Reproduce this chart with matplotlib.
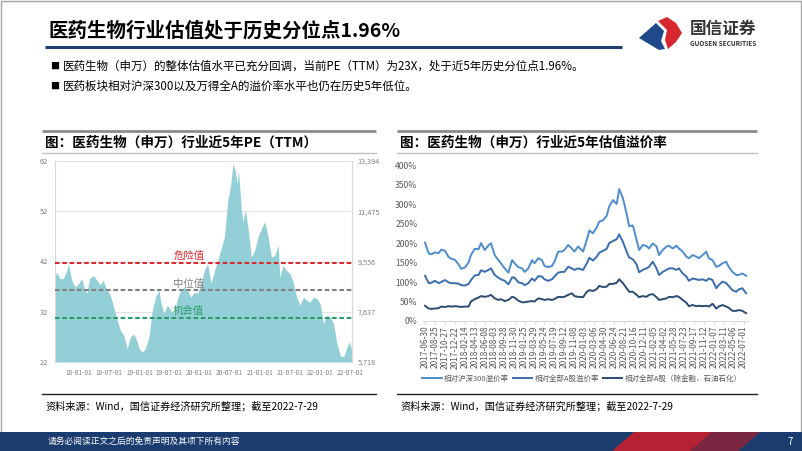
# 医药生物行业估值：PE(TTM) 与 估值溢价率
import numpy as np
import pandas as pd
import matplotlib
matplotlib.use('Agg')
import matplotlib.pyplot as plt
import matplotlib.dates as mdates
from matplotlib.patches import Polygon, Rectangle

plt.rcParams['font.family'] = ['Noto Sans CJK SC', 'DejaVu Sans']

# ---- 左图：医药生物（申万）PE(TTM) ----
pe_dates = ['2017-08-08', '2017-08-18', '2017-09-07', '2017-09-28', '2017-10-18', '2017-10-28', '2017-11-17',
            '2017-12-08', '2017-12-28', '2018-01-17', '2018-01-31', '2018-02-16', '2018-03-05', '2018-03-29',
            '2018-04-18', '2018-05-09', '2018-05-25', '2018-06-19', '2018-07-09', '2018-07-29', '2018-08-19',
            '2018-09-08', '2018-09-28', '2018-10-19', '2018-11-08', '2018-11-28', '2018-12-19', '2018-12-29',
            '2019-01-18', '2019-02-07', '2019-02-28', '2019-03-20', '2019-04-09', '2019-04-30', '2019-05-10',
            '2019-05-30', '2019-06-19', '2019-07-10', '2019-07-30', '2019-08-19', '2019-09-09', '2019-09-29',
            '2019-10-19', '2019-11-09', '2019-11-29', '2019-12-19', '2020-01-09', '2020-01-29', '2020-02-18',
            '2020-03-10', '2020-03-30', '2020-04-19', '2020-05-10', '2020-05-30', '2020-06-19', '2020-07-05',
            '2020-07-20', '2020-08-03', '2020-08-15', '2020-08-23', '2020-09-08', '2020-09-19', '2020-10-03',
            '2020-10-19', '2020-11-08', '2020-11-29', '2020-12-19', '2021-01-08', '2021-01-29', '2021-02-18',
            '2021-03-10', '2021-03-31', '2021-04-20', '2021-04-30', '2021-05-20', '2021-06-10', '2021-06-30',
            '2021-07-20', '2021-08-10', '2021-08-30', '2021-09-19', '2021-10-10', '2021-10-30', '2021-11-19',
            '2021-12-10', '2021-12-30', '2022-01-19', '2022-02-09', '2022-03-01', '2022-03-21', '2022-04-11',
            '2022-05-01', '2022-05-21', '2022-06-11', '2022-06-25', '2022-07-11']
pe_values = [38.9, 39.9, 38.6, 38.6, 40.2, 41.6, 38.3, 36.9, 37.6, 38.6,
             36.9, 35.6, 38.6, 39.2, 38.3, 37.3, 38.3, 36.3, 35.3, 32.9,
             30.3, 28.3, 27.3, 24.7, 27.0, 27.6, 26.0, 24.7, 24.0, 24.7,
             27.0, 32.3, 34.9, 36.3, 33.9, 31.6, 33.3, 32.3, 31.6, 34.6,
             36.3, 36.9, 36.3, 34.9, 35.9, 35.6, 37.6, 40.2, 41.6, 37.6,
             40.2, 42.2, 44.6, 46.9, 54.2, 56.8, 61.5, 60.1, 57.5, 60.1,
             52.8, 49.9, 52.2, 48.9, 42.9, 44.2, 46.9, 48.5, 49.9, 46.9,
             42.9, 43.2, 45.2, 38.9, 41.2, 40.2, 39.6, 37.9, 34.9, 33.3,
             34.9, 34.3, 33.9, 34.9, 34.6, 33.6, 29.6, 31.3, 31.0, 29.6,
             25.6, 23.3, 23.0, 25.0, 26.0, 24.3]
pe_danger = 41.8   # 危险值
pe_median = 36.3   # 中位值
pe_chance = 30.8   # 机会值
pe_left_ticks = [22, 32, 42, 52, 62]
pe_right_ticks = [5718, 7637, 9556, 11475, 13394]

# ---- 右图：估值溢价率（周度，序号为周） ----
prem_weeks = [0, 3, 5, 8, 11, 13, 16, 19, 21, 24, 27, 29, 32, 35, 37, 40, 43, 45, 48, 51,
              53, 56, 59, 61, 64, 67, 70, 72, 75, 78, 80, 83, 86, 88, 91, 94, 96, 99, 102, 104,
              107, 110, 112, 115, 118, 120, 123, 127, 130, 132, 135, 138, 140, 143, 146, 148, 151,
              154, 156, 159, 162, 164, 167, 170, 172, 175, 178, 180, 183, 186, 188, 191, 194, 196,
              199, 202, 204, 207, 210, 212, 215, 218, 220, 223, 226, 228, 231, 234, 236, 239, 242,
              244, 247, 250, 252, 255, 258]
prem_hs300 = [201, 173, 171, 176, 174, 183, 180, 164, 160, 157, 145, 134, 137, 150, 170, 185, 184, 200, 182, 194,
              199, 169, 156, 148, 135, 124, 156, 148, 138, 135, 126, 135, 156, 148, 161, 156, 141, 138, 141, 152,
              178, 178, 182, 195, 186, 178, 191,
              178, 208, 232, 225, 240, 255, 258, 270, 294, 310, 300, 338, 315, 275, 243, 245, 208, 182, 195, 192,
              186, 199, 191, 169, 182, 191, 193, 186, 193, 186, 178, 165, 161, 169, 165, 161, 169, 178, 161, 156,
              139, 141, 148, 152, 139, 126, 118, 118, 122, 116]
prem_alla = [116, 97, 98, 103, 97, 100, 105, 99, 97, 97, 96, 92, 91, 95, 105, 117, 118, 130, 126, 131,
             135, 118, 111, 107, 103, 94, 112, 111, 99, 97, 92, 97, 109, 103, 115, 114, 107, 103, 107, 114,
             124, 126, 126, 139, 135, 131, 135,
             131, 148, 162, 155, 165, 175, 180, 185, 200, 205, 210, 222, 203, 178, 163, 158, 145, 125, 131, 135,
             139, 152, 135, 118, 126, 131, 135, 135, 131, 135, 122, 114, 103, 109, 107, 105, 107, 103, 109, 105,
             84, 92, 101, 97, 90, 79, 75, 81, 84, 71]
prem_alla_ex = [39, 32, 31, 32, 33, 37, 36, 38, 37, 38, 37, 36, 37, 37, 50, 56, 60, 64, 62, 64,
                67, 58, 54, 56, 51, 54, 62, 60, 52, 48, 48, 50, 51, 50, 58, 56, 54, 56, 54, 56,
                62, 61, 62, 67, 71, 64, 62,
                61, 75, 79, 77, 82, 90, 87, 88, 95, 95, 98, 107, 97, 84, 75, 75, 67, 61, 64, 62,
                67, 69, 61, 54, 56, 58, 62, 61, 64, 62, 54, 47, 38, 41, 38, 39, 38, 39, 37, 44,
                32, 37, 41, 37, 34, 26, 26, 28, 26, 20]
prem_labels = ['2017-06-30', '2017-08-25', '2017-10-27', '2017-12-22', '2018-02-14', '2018-04-13',
               '2018-06-08', '2018-08-03', '2018-09-28', '2018-11-30', '2019-01-25', '2019-03-29',
               '2019-05-24', '2019-07-19', '2019-09-12', '2019-11-08', '2020-01-03', '2020-03-06',
               '2020-04-30', '2020-06-24', '2020-08-21', '2020-10-16', '2020-12-11', '2021-02-05',
               '2021-04-02', '2021-05-28', '2021-07-23', '2021-09-17', '2021-11-12', '2022-01-07',
               '2022-03-11', '2022-05-06', '2022-07-01']
prem_names = ['相对沪深300溢价率', '相对全部A股溢价率', '相对全部A股（除金融，石油石化）']
prem_colors = ['#4f8ccb', '#3b6ea9', '#2c4c72']

W, H = 802, 451
fig = plt.figure(figsize=(W / 100, H / 100), dpi=100)

# 背景层，按像素定位
bg = fig.add_axes([0, 0, 1, 1], zorder=0)
bg.set_xlim(0, W)
bg.set_ylim(H, 0)
bg.axis('off')

bg.add_patch(Rectangle((0.5, 0.5), W - 2, 432, fill=False, ec='#a6a6a6', lw=1))

# 标题
bg.text(48, 31, '医药生物行业估值处于历史分位点1.96%', fontsize=14, fontweight='bold', va='center')
bg.plot([45, 622], [46.5, 46.5], color='#1f3f73', lw=2.2, solid_capstyle='butt')

# 国信证券 logo
bg.add_patch(Polygon([(639, 38), (656, 23), (664, 31), (661, 41), (665, 49), (659, 50)], color='#1e4a8c', lw=0))
bg.add_patch(Polygon([(658, 21), (667, 17), (676, 23), (682, 33), (676, 42), (668, 49), (665, 40), (667, 30)],
                     color='#d7282f', lw=0))
bg.text(690, 29, '国信证券', fontsize=12, fontweight='bold', color='#333333', va='center')
bg.text(690.5, 44, 'GUOSEN SECURITIES', fontsize=4.6, fontweight='bold', color='#333333', va='center')

# 要点
bullets = ['医药生物（申万）的整体估值水平已充分回调，当前PE（TTM）为23X，处于近5年历史分位点1.96%。',
           '医药板块相对沪深300以及万得全A的溢价率水平也仍在历史5年低位。']
for yy, txt in zip([66, 86], bullets):
    bg.text(50, yy, '■', fontsize=6.5, va='center')
    bg.text(63, yy, txt, fontsize=8.3, va='center')

# 两个图框的标题、分隔线、资料来源
for x0, x1, ttl in [(42, 376, '图：医药生物（申万）行业近5年PE（TTM）'),
                    (397, 757, '图：医药生物（申万）行业近5年估值溢价率')]:
    bg.plot([x0, x1], [131, 131], color='#8c8c8c', lw=2, solid_capstyle='butt')
    bg.text(x0 + 3, 143, ttl, fontsize=9.8, fontweight='bold', va='center')
    bg.plot([x0, x1], [152.5, 152.5], color='#bfbfbf', lw=1)
    bg.plot([x0, x1], [394, 394], color='#222222', lw=1)
    bg.text(x0 + 3, 406, '资料来源：Wind，国信证券经济研究所整理；截至2022-7-29', fontsize=7.3, va='center')

# 页脚
bg.add_patch(Rectangle((0, 432), W, 19, color='#1b3c6e', lw=0))
bg.add_patch(Polygon([(612, 451), (634, 432), (712, 432), (690, 451)], color='#c91f2e', alpha=0.9, lw=0))
bg.add_patch(Polygon([(690, 451), (712, 432), (760, 432), (738, 451)], color='#a3202f', alpha=0.7, lw=0))
bg.text(48, 441.5, '请务必阅读正文之后的免责声明及其项下所有内容', fontsize=6.3, color='white', va='center')
bg.text(790, 442, '7', fontsize=7, color='white', va='center', ha='center')

# ---- 左图 ----
dates = pd.to_datetime(pe_dates)
ax1 = fig.add_axes([55 / W, 1 - 362 / H, 297 / W, 201 / H], zorder=2)
ax1.set_axisbelow(True)
ax1.grid(axis='y', color='#e3e3e3', lw=0.8)
ax1.fill_between(dates, pe_values, 22, color='#93cfd7', lw=0, zorder=2)
ax1.set_ylim(22, 62)
ax1.set_xlim(dates[0], dates[-1])
ax1.set_yticks(pe_left_ticks)

for val, col in [(pe_danger, '#d92b2f'), (pe_median, '#808080'), (pe_chance, '#2c9a66')]:
    ax1.axhline(val, color=col, ls=(0, (2.2, 1.3)), lw=1.5, zorder=3)
label_x = pd.Timestamp('2019-10-27')
for val, txt, col in [(pe_danger, '危险值', '#d92b2f'), (pe_median, '中位值', '#808080'),
                      (pe_chance, '机会值', '#2c9a66')]:
    ax1.text(label_x, val + 0.3, txt, color=col, fontsize=7.5, ha='center', va='bottom', zorder=4)

ax1.xaxis.set_major_locator(mdates.MonthLocator(bymonth=[1, 7]))
ax1.xaxis.set_major_formatter(mdates.DateFormatter('%y-%m-%d'))
ax1.tick_params(axis='both', length=0, labelsize=5.4, labelcolor='#808080')
ax1.tick_params(axis='x', labelsize=4.8, pad=5)
ax1.tick_params(axis='y', pad=5)
for s in ['top', 'bottom']:
    ax1.spines[s].set_visible(False)
for s in ['left', 'right']:
    ax1.spines[s].set_color('#d9d9d9')

ax1r = ax1.twinx()
ax1r.set_ylim(pe_right_ticks[0], pe_right_ticks[-1])
ax1r.set_yticks(pe_right_ticks)
ax1r.set_yticklabels([f'{v:,}' for v in pe_right_ticks])
ax1r.tick_params(axis='y', length=0, labelsize=5.2, labelcolor='#808080', pad=4)
for s in ['top', 'bottom', 'left']:
    ax1r.spines[s].set_visible(False)
ax1r.spines['right'].set_color('#d9d9d9')

# ---- 右图 ----
ax2 = fig.add_axes([423 / W, 1 - 321 / H, 325 / W, 156 / H], zorder=2)
for vals, name, col in zip([prem_hs300, prem_alla, prem_alla_ex], prem_names, prem_colors):
    ax2.plot(prem_weeks, vals, color=col, lw=1.4, label=name)
ax2.set_ylim(0, 400)
ax2.set_xlim(-1.6, 259.5)
ax2.set_yticks(np.arange(0, 401, 50))
ax2.set_yticklabels([f'{v}%' for v in range(0, 401, 50)])
ax2.set_xticks([i * 8 for i in range(len(prem_labels))])
ax2.set_xticklabels(prem_labels, rotation=90)
ax2.tick_params(axis='y', length=0, labelsize=6.2, labelcolor='#595959', pad=4)
ax2.tick_params(axis='x', length=2, color='#d9d9d9', labelsize=6, labelcolor='#595959', pad=1.5)
for s in ['top', 'left', 'right']:
    ax2.spines[s].set_visible(False)
ax2.spines['bottom'].set_color('#d9d9d9')

leg = fig.legend(loc='center left', bbox_to_anchor=(422 / W, 1 - 379 / H), ncol=3, frameon=False,
                 fontsize=5.4, handlelength=2.6, handletextpad=0.3, columnspacing=0.5, borderaxespad=0,
                 borderpad=0)
for t in leg.get_texts():
    t.set_color('#595959')

fig.savefig('out.png', dpi=100)
